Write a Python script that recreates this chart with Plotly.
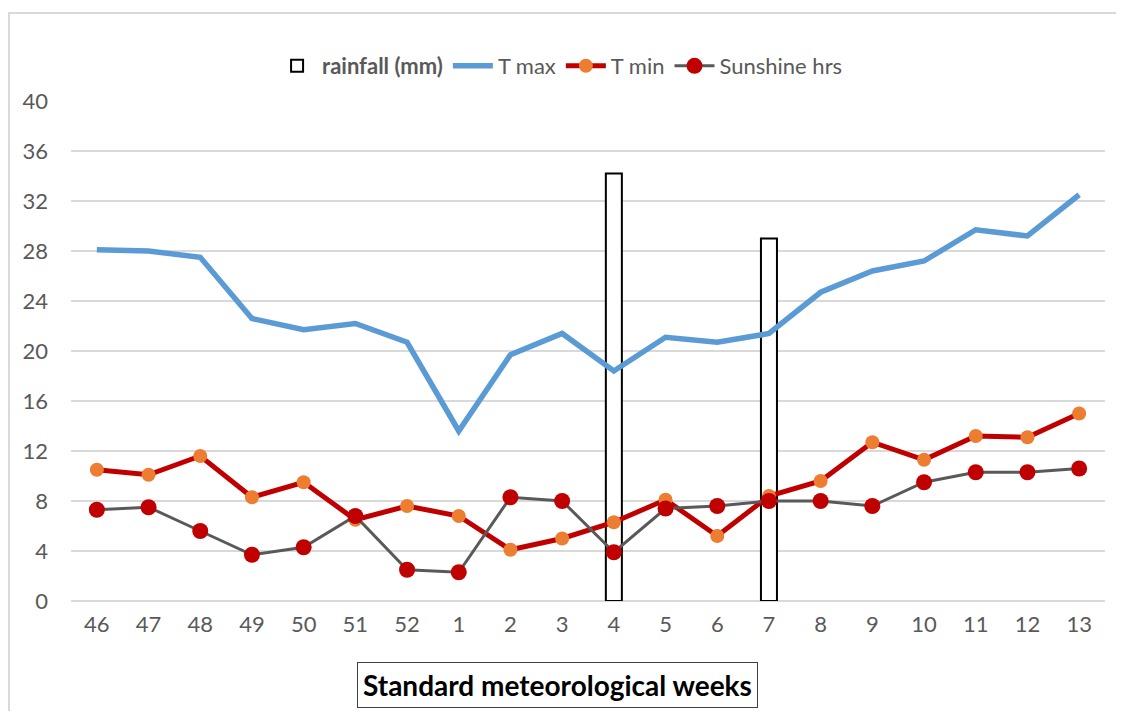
import plotly.graph_objects as go

weeks = ["46", "47", "48", "49", "50", "51", "52", "1", "2", "3", "4", "5", "6", "7", "8", "9", "10", "11", "12", "13"]
rainfall = [None, None, None, None, None, None, None, None, None, None, 34.2, None, None, 29.0, None, None, None, None, None, None]
t_max = [28.1, 28.0, 27.5, 22.6, 21.7, 22.2, 20.7, 13.6, 19.7, 21.4, 18.4, 21.1, 20.7, 21.4, 24.7, 26.4, 27.2, 29.7, 29.2, 32.5]
t_min = [10.5, 10.1, 11.6, 8.3, 9.5, 6.5, 7.6, 6.8, 4.1, 5.0, 6.3, 8.1, 5.2, 8.4, 9.6, 12.7, 11.3, 13.2, 13.1, 15.0]
sunshine = [7.3, 7.5, 5.6, 3.7, 4.3, 6.8, 2.5, 2.3, 8.3, 8.0, 3.9, 7.4, 7.6, 8.0, 8.0, 7.6, 9.5, 10.3, 10.3, 10.6]
y_ticks = [0, 4, 8, 12, 16, 20, 24, 28, 32, 36, 40]

FONT = "Lato, 'Open Sans', sans-serif"
GRAY = "#595959"
GRID = "#d9d9d9"

fig = go.Figure()
fig.add_trace(go.Bar(
    x=weeks, y=rainfall, name="<b>rainfall (mm)</b>", width=0.31,
    marker=dict(color="white", line=dict(color="black", width=2)),
))
fig.add_trace(go.Scatter(
    x=weeks, y=t_max, name="T max", mode="lines",
    line=dict(color="#5b9bd5", width=5.5),
))
fig.add_trace(go.Scatter(
    x=weeks, y=t_min, name="T min", mode="lines+markers",
    line=dict(color="#c00000", width=5),
    marker=dict(color="#ed7d31", size=14),
))
fig.add_trace(go.Scatter(
    x=weeks, y=sunshine, name="Sunshine hrs", mode="lines+markers",
    line=dict(color=GRAY, width=3),
    marker=dict(color="#c00000", size=16),
))

fig.update_layout(
    width=1108, height=703,
    margin=dict(l=63, r=11, t=93, b=110, autoexpand=False),
    paper_bgcolor="white", plot_bgcolor="white",
    font=dict(family=FONT, size=22, color=GRAY),
    showlegend=True,
    legend=dict(orientation="h", x=0.473, xanchor="center", y=1.07, yanchor="middle",
                font=dict(size=22, color=GRAY), traceorder="normal", itemwidth=40),
    xaxis=dict(type="category", range=[-0.5, 19.5], tickfont=dict(size=22, color=GRAY),
               showgrid=False, showline=False, ticks="", zeroline=False, automargin=False,
               ticklabelstandoff=8),
    yaxis=dict(range=[0, 40], tickvals=y_ticks, showgrid=True, gridcolor=GRID, gridwidth=1.5,
               zeroline=True, zerolinecolor=GRID, zerolinewidth=1.5, ticks="",
               tickfont=dict(size=22, color=GRAY), ticklabelstandoff=22, automargin=False),
    bargap=0.69,
    shapes=[dict(type="rect", xref="paper", yref="paper",
                 x0=-0.0600, y0=1.176, x1=1.05, y1=-0.3,
                 line=dict(color=GRID, width=2), fillcolor="rgba(0,0,0,0)", layer="below")],
    annotations=[dict(text="<b>Standard meteorological weeks</b>", xref="paper", yref="paper",
                      x=0.4705, y=-0.168, xanchor="center", yanchor="middle", showarrow=False,
                      font=dict(size=28, color="black", family=FONT),
                      bordercolor="#404040", borderwidth=1, borderpad=5, bgcolor="white")],
)

fig.write_html("out.html")
